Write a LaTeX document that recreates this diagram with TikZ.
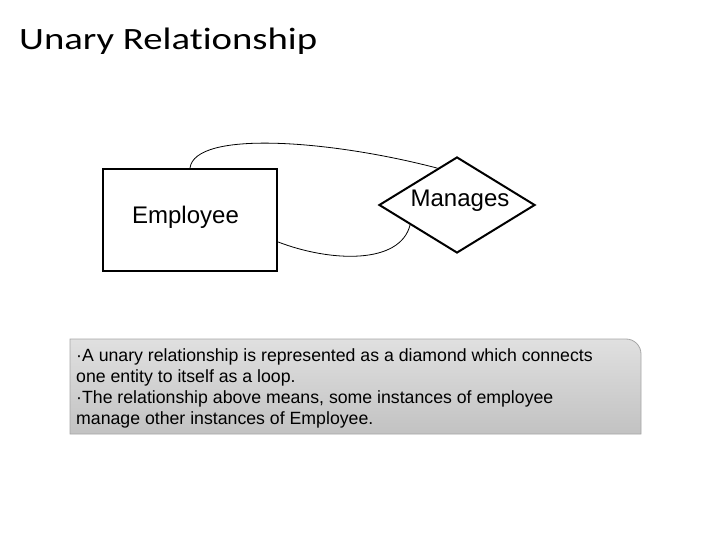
\documentclass[tikz,border=0pt]{standalone}
\usepackage{fontspec}
\setmainfont{Liberation Sans}
\newfontfamily\titlefont[Ligatures=NoCommon]{Carlito}
\usetikzlibrary{shapes.geometric}
\definecolor{boxtop}{HTML}{E0E0E0}
\definecolor{boxbot}{HTML}{C2C2C2}
\definecolor{boxline}{HTML}{A6A6A6}
\tikzset{
  entity/.style={draw=black, line width=2pt, minimum width=174pt, minimum height=102pt, inner sep=0pt},
  relation/.style={diamond, draw=black, line width=2pt, minimum width=156pt, minimum height=96pt, inner sep=0pt},
  lbl/.style={font=\fontsize{24}{28}\selectfont, inner sep=0pt, anchor=base},
  link/.style={draw=black, line width=0.8pt},
}
\begin{document}
\begin{tikzpicture}[x=1pt,y=-1pt]
\useasboundingbox (0,0) rectangle (720,540);
\node[anchor=base west, inner sep=0pt, font=\titlefont\fontsize{31}{36}\selectfont] (title) at (19,50) {\scalebox{1.25}[1]{Unary Relationship}};
\node[entity] (emp) at (190,220) {};
\node[lbl] (empl) at (185.5,224) {Employee};
\node[relation] (mgr) at (457,205) {};
\node[lbl] (mgrl) at (460,207) {Manages};
\draw[link] (emp.north) .. controls (195,130) and (330,140) .. (mgr.118);
\draw[link] (emp.-14) .. controls (330,262) and (400,265) .. (mgr.203);
\shade[top color=boxtop, bottom color=boxbot, draw=boxline, line width=0.8pt]
  (70,434) -- (70,339) [rounded corners=15pt] -- (641,339) [sharp corners] -- (641,434) -- cycle;
\node[anchor=base west, inner sep=0pt, align=left, font=\fontsize{17.7}{21}\selectfont] (note) at (76,424)
  {·A unary relationship is represented as a diamond which connects\\
   one entity to itself as a loop.\\
   ·The relationship above means, some instances of employee\\
   manage other instances of Employee.};
\end{tikzpicture}
\end{document}
